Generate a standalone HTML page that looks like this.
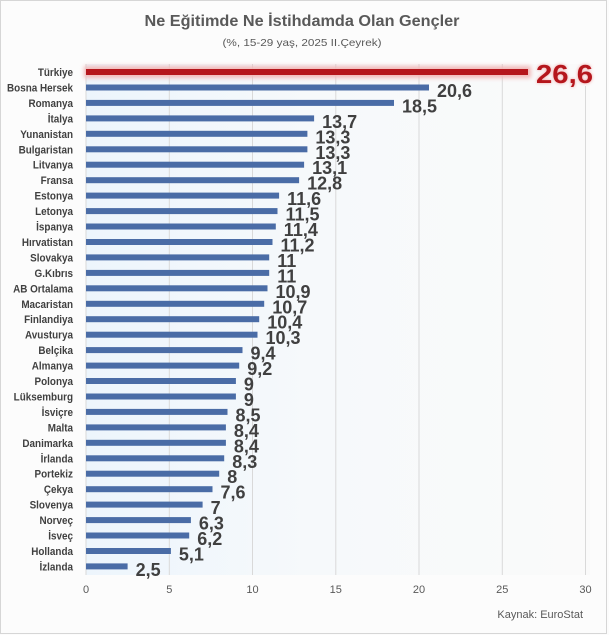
<!DOCTYPE html>
<html><head><meta charset="utf-8"><style>
html,body{margin:0;padding:0;background:#fcfcfc;}
svg{display:block;}
</style></head><body>
<svg width="609" height="635" viewBox="0 0 609 635" xmlns="http://www.w3.org/2000/svg" font-family="'Liberation Sans', sans-serif">
<defs>
<linearGradient id="pbg" x1="0" y1="0" x2="1" y2="0">
<stop offset="0" stop-color="#edf5fc"/>
<stop offset="0.45" stop-color="#f6f9fb"/>
<stop offset="1" stop-color="#fafafa"/>
</linearGradient>
<filter id="glow" x="-10%" y="-200%" width="120%" height="500%"><feGaussianBlur stdDeviation="2"/></filter>
<filter id="tglow" x="-20%" y="-50%" width="140%" height="200%"><feGaussianBlur stdDeviation="1.5"/></filter>
</defs>
<rect x="0" y="0" width="609" height="635" fill="#fcfcfc"/>
<rect x="0.5" y="0.5" width="606" height="633" fill="#fcfcfc" stroke="#d6d6d6" stroke-width="1"/>
<rect x="86" y="64" width="504" height="511" fill="url(#pbg)"/>
<text x="302" y="26" text-anchor="middle" font-size="15.5" font-weight="bold" fill="#595959" textLength="315" lengthAdjust="spacingAndGlyphs">Ne Eğitimde Ne İstihdamda Olan Gençler</text>
<text x="302" y="46" text-anchor="middle" font-size="10.5" fill="#595959" textLength="159" lengthAdjust="spacingAndGlyphs">(%, 15-29 yaş, 2025 II.Çeyrek)</text>
<g stroke="#d9d9d9" stroke-width="1">
<line x1="86" y1="64" x2="86" y2="575"/>
<line x1="169.3" y1="64" x2="169.3" y2="575"/>
<line x1="252.5" y1="64" x2="252.5" y2="575"/>
<line x1="335.8" y1="64" x2="335.8" y2="575"/>
<line x1="419" y1="64" x2="419" y2="575"/>
<line x1="502.3" y1="64" x2="502.3" y2="575"/>
<line x1="585.5" y1="86" x2="585.5" y2="575"/>
</g>
<g font-size="11" fill="#595959" text-anchor="middle">
<text x="86" y="593">0</text><text x="169.3" y="593">5</text><text x="252.5" y="593">10</text><text x="335.8" y="593">15</text><text x="419" y="593">20</text><text x="502.3" y="593">25</text><text x="585.5" y="593">30</text>
</g>
<text x="583" y="618" text-anchor="end" font-size="11" fill="#595959">Kaynak: EuroStat</text>
<!-- Türkiye -->
<rect x="84" y="66" width="447" height="12" fill="#f2b8b8" filter="url(#glow)"/>
<rect x="86" y="69" width="442" height="6" fill="#b5161c"/>
<text x="536" y="83" font-size="26" font-weight="bold" fill="#f0a0a0" filter="url(#tglow)" textLength="57" lengthAdjust="spacingAndGlyphs">26,6</text>
<text x="536" y="83" font-size="26" font-weight="bold" fill="#b5161c" textLength="57" lengthAdjust="spacingAndGlyphs">26,6</text>
<g font-size="11" font-weight="bold" fill="#404040" text-anchor="end">
<g transform="translate(73,0) scale(0.9,1)">
<text x="0" y="76">Türkiye</text>
<text x="0" y="91.5">Bosna Hersek</text>
<text x="0" y="106.9">Romanya</text>
<text x="0" y="122.4">İtalya</text>
<text x="0" y="137.8">Yunanistan</text>
<text x="0" y="153.3">Bulgaristan</text>
<text x="0" y="168.7">Litvanya</text>
<text x="0" y="184.2">Fransa</text>
<text x="0" y="199.6">Estonya</text>
<text x="0" y="215.1">Letonya</text>
<text x="0" y="230.5">İspanya</text>
<text x="0" y="246">Hırvatistan</text>
<text x="0" y="261.4">Slovakya</text>
<text x="0" y="276.9">G.Kıbrıs</text>
<text x="0" y="292.3">AB Ortalama</text>
<text x="0" y="307.8">Macaristan</text>
<text x="0" y="323.2">Finlandiya</text>
<text x="0" y="338.7">Avusturya</text>
<text x="0" y="354.1">Belçika</text>
<text x="0" y="369.6">Almanya</text>
<text x="0" y="385">Polonya</text>
<text x="0" y="400.5">Lüksemburg</text>
<text x="0" y="415.9">İsviçre</text>
<text x="0" y="431.4">Malta</text>
<text x="0" y="446.8">Danimarka</text>
<text x="0" y="462.3">İrlanda</text>
<text x="0" y="477.7">Portekiz</text>
<text x="0" y="493.2">Çekya</text>
<text x="0" y="508.6">Slovenya</text>
<text x="0" y="524.1">Norveç</text>
<text x="0" y="539.5">İsveç</text>
<text x="0" y="555">Hollanda</text>
<text x="0" y="570.4">İzlanda</text>
</g>
</g>
<g fill="#4a6ca6">
<rect x="86" y="84.5" width="343" height="6"/>
<rect x="86" y="99.9" width="308" height="6"/>
<rect x="86" y="115.4" width="228.1" height="6"/>
<rect x="86" y="130.8" width="221.4" height="6"/>
<rect x="86" y="146.3" width="221.4" height="6"/>
<rect x="86" y="161.7" width="218.1" height="6"/>
<rect x="86" y="177.2" width="213.1" height="6"/>
<rect x="86" y="192.6" width="193.1" height="6"/>
<rect x="86" y="208.1" width="191.5" height="6"/>
<rect x="86" y="223.5" width="189.8" height="6"/>
<rect x="86" y="239" width="186.5" height="6"/>
<rect x="86" y="254.4" width="183.2" height="6"/>
<rect x="86" y="269.9" width="183.2" height="6"/>
<rect x="86" y="285.3" width="181.5" height="6"/>
<rect x="86" y="300.8" width="178.2" height="6"/>
<rect x="86" y="316.2" width="173.2" height="6"/>
<rect x="86" y="331.7" width="171.5" height="6"/>
<rect x="86" y="347.1" width="156.5" height="6"/>
<rect x="86" y="362.6" width="153.2" height="6"/>
<rect x="86" y="378" width="149.9" height="6"/>
<rect x="86" y="393.5" width="149.9" height="6"/>
<rect x="86" y="408.9" width="141.5" height="6"/>
<rect x="86" y="424.4" width="139.9" height="6"/>
<rect x="86" y="439.8" width="139.9" height="6"/>
<rect x="86" y="455.3" width="138.2" height="6"/>
<rect x="86" y="470.7" width="133.2" height="6"/>
<rect x="86" y="486.2" width="126.5" height="6"/>
<rect x="86" y="501.6" width="116.6" height="6"/>
<rect x="86" y="517.1" width="104.9" height="6"/>
<rect x="86" y="532.5" width="103.2" height="6"/>
<rect x="86" y="548" width="84.9" height="6"/>
<rect x="86" y="563.4" width="41.6" height="6"/>
</g>
<g font-size="18" font-weight="bold" fill="#404040">
<text x="437" y="97">20,6</text>
<text x="402" y="112.4">18,5</text>
<text x="322.1" y="127.9">13,7</text>
<text x="315.4" y="143.3">13,3</text>
<text x="315.4" y="158.8">13,3</text>
<text x="312.1" y="174.2">13,1</text>
<text x="307.1" y="189.7">12,8</text>
<text x="287.1" y="205.1">11,6</text>
<text x="285.5" y="220.6">11,5</text>
<text x="283.8" y="236">11,4</text>
<text x="280.5" y="251.5">11,2</text>
<text x="277.2" y="266.9">11</text>
<text x="277.2" y="282.4">11</text>
<text x="275.5" y="297.8">10,9</text>
<text x="272.2" y="313.3">10,7</text>
<text x="267.2" y="328.7">10,4</text>
<text x="265.5" y="344.2">10,3</text>
<text x="250.5" y="359.6">9,4</text>
<text x="247.2" y="375.1">9,2</text>
<text x="243.9" y="390.5">9</text>
<text x="243.9" y="406">9</text>
<text x="235.5" y="421.4">8,5</text>
<text x="233.9" y="436.9">8,4</text>
<text x="233.9" y="452.3">8,4</text>
<text x="232.2" y="467.8">8,3</text>
<text x="227.2" y="483.2">8</text>
<text x="220.5" y="498.7">7,6</text>
<text x="210.6" y="514.1">7</text>
<text x="198.9" y="529.6">6,3</text>
<text x="197.2" y="545">6,2</text>
<text x="178.9" y="560.5">5,1</text>
<text x="135.6" y="575.9">2,5</text>
</g>
</svg>
</body></html>
